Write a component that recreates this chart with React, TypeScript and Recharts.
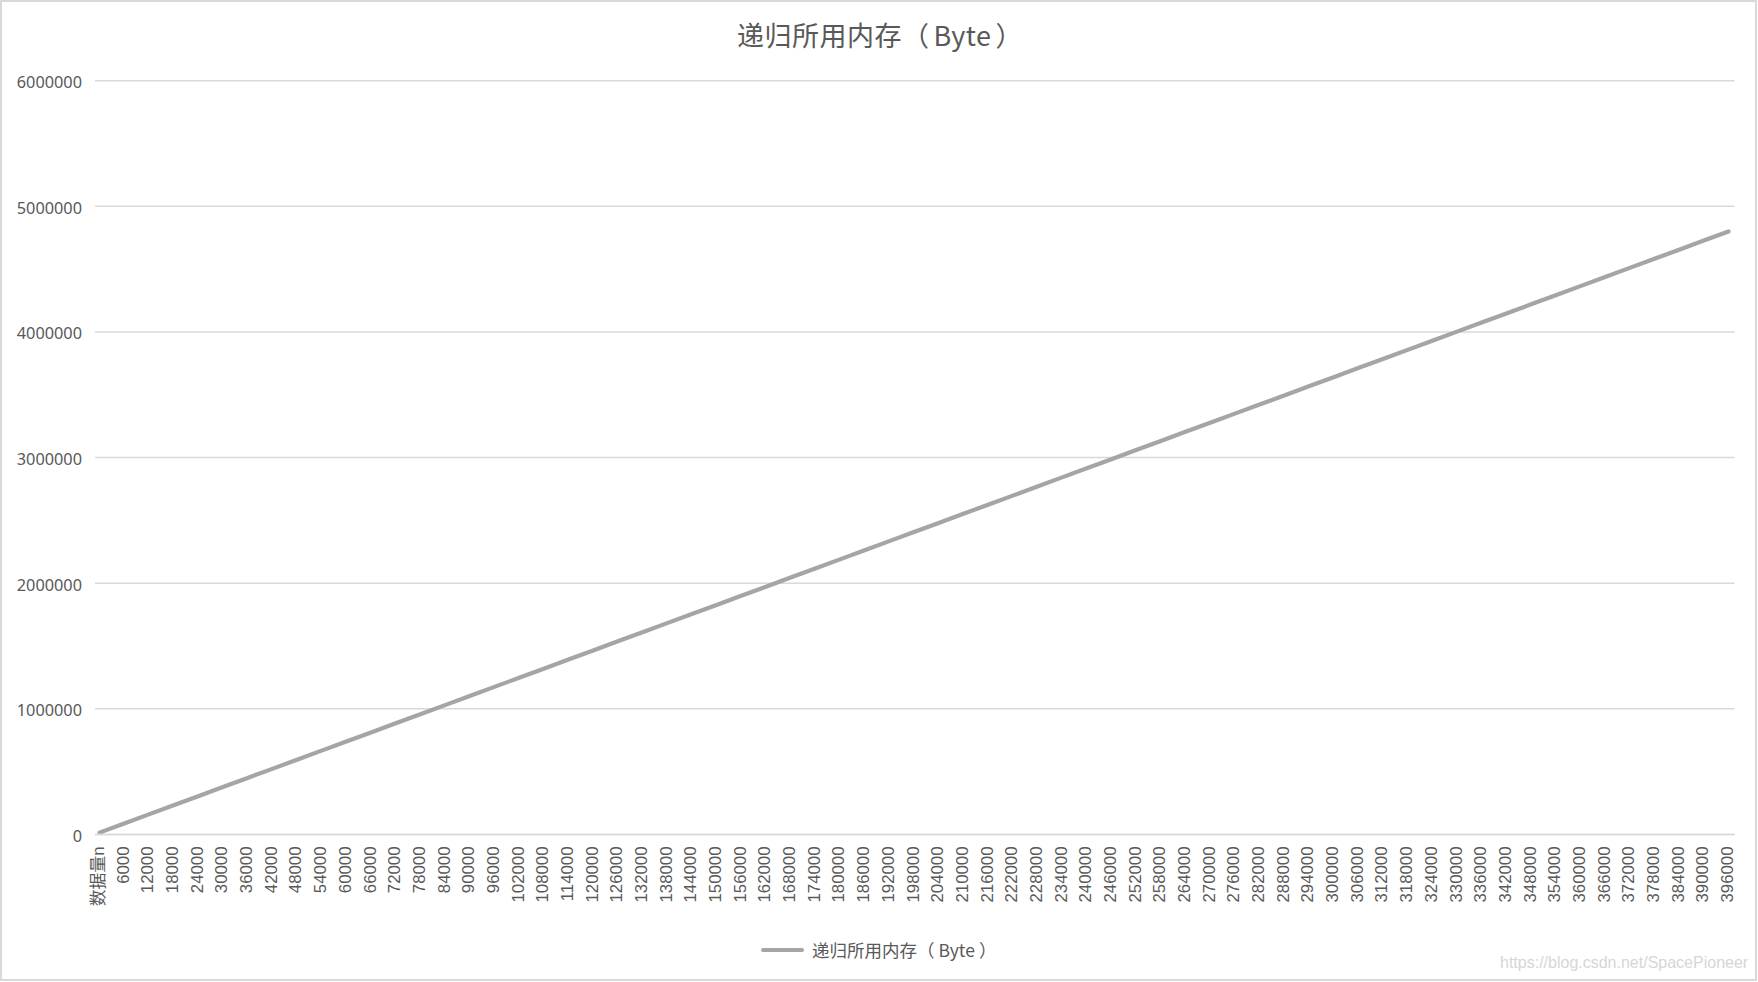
import React from "react";
import { LineChart, Line, XAxis, YAxis, CartesianGrid } from "recharts";

const TITLE_CJK = "递归所用内存";
const UNIT = "Byte";
const SERIES_NAME = "递归所用内存（Byte）";
const WATERMARK = "https://blog.csdn.net/SpacePioneer";

const categories: string[] = [
  "数据量n",
  "6000", "12000", "18000", "24000", "30000", "36000", "42000", "48000", "54000", "60000",
  "66000", "72000", "78000", "84000", "90000", "96000", "102000", "108000", "114000", "120000",
  "126000", "132000", "138000", "144000", "150000", "156000", "162000", "168000", "174000", "180000",
  "186000", "192000", "198000", "204000", "210000", "216000", "222000", "228000", "234000", "240000",
  "246000", "252000", "258000", "264000", "270000", "276000", "282000", "288000", "294000", "300000",
  "306000", "312000", "318000", "324000", "330000", "336000", "342000", "348000", "354000", "360000",
  "366000", "372000", "378000", "384000", "390000", "396000",
];

const memoryBytes: number[] = [
  15000,
  87500, 160000, 232500, 305000, 377500, 450000, 522500, 595000, 667500, 740000,
  812500, 885000, 957500, 1030000, 1102500, 1175000, 1247500, 1320000, 1392500, 1465000,
  1537500, 1610000, 1682500, 1755000, 1827500, 1900000, 1972500, 2045000, 2117500, 2190000,
  2262500, 2335000, 2407500, 2480000, 2552500, 2625000, 2697500, 2770000, 2842500, 2915000,
  2987500, 3060000, 3132500, 3205000, 3277500, 3350000, 3422500, 3495000, 3567500, 3640000,
  3712500, 3785000, 3857500, 3930000, 4002500, 4075000, 4147500, 4220000, 4292500, 4365000,
  4437500, 4510000, 4582500, 4655000, 4727500, 4800000,
];

const yTicks: number[] = [0, 1000000, 2000000, 3000000, 4000000, 5000000, 6000000];

const data = categories.map((c, i) => ({ n: c, mem: memoryBytes[i] }));

const TEXT = "#595959";
const GRID = "#d9d9d9";
const LINE = "#a5a5a5";

const XTick = (props: any) => {
  const { x, y, payload } = props;
  return (
    <text
      transform={`translate(${x - 1},${y}) rotate(-90)`}
      textAnchor="end"
      dominantBaseline="central"
      fill={TEXT}
      fontSize={16.8}
      fontFamily="'Liberation Sans', 'Noto Sans CJK SC', sans-serif"
    >
      {payload.value}
    </text>
  );
};

const YTick = (props: any) => {
  const { x, y, payload } = props;
  return (
    <text
      x={x}
      y={y + 1.5}
      textAnchor="end"
      dominantBaseline="central"
      fill={TEXT}
      fontSize={16.3}
      fontFamily="'Noto Sans', sans-serif"
    >
      {payload.value}
    </text>
  );
};

export default function App() {
  return (
    <div
      style={{
        position: "absolute",
        left: 0,
        top: 0,
        width: 1758,
        height: 982,
        background: "#ffffff",
        overflow: "hidden",
      }}
    >
      <LineChart
        width={1758}
        height={982}
        data={data}
        margin={{ top: 80.7, right: 23.5, bottom: 47.5, left: 0 }}
      >
        <CartesianGrid vertical={false} stroke={GRID} strokeWidth={1.5} />
        <XAxis
          dataKey="n"
          interval={0}
          height={100}
          tickSize={0}
          tickMargin={12}
          tickLine={false}
          axisLine={{ stroke: GRID, strokeWidth: 1.5 }}
          padding={{ left: 4.5, right: 6 }}
          tick={<XTick />}
        />
        <YAxis
          width={95}
          domain={[0, 6000000]}
          ticks={yTicks}
          interval={0}
          tickSize={0}
          tickMargin={13}
          tickLine={false}
          axisLine={false}
          tick={<YTick />}
        />
        <Line
          type="linear"
          dataKey="mem"
          name={SERIES_NAME}
          stroke={LINE}
          strokeWidth={4.2}
          strokeLinecap="round"
          dot={false}
          activeDot={false}
          isAnimationActive={false}
        />
      </LineChart>

      {/* chart area border */}
      <div
        style={{
          position: "absolute",
          left: 0,
          top: 0,
          width: 1757,
          height: 981,
          border: `2px solid ${GRID}`,
          boxSizing: "border-box",
          pointerEvents: "none",
        }}
      />

      {/* title */}
      <div
        style={{
          position: "absolute",
          left: 880,
          top: 35 - 14,
          transform: "translateX(-50%)",
          fontSize: 27,
          lineHeight: "28px",
          whiteSpace: "nowrap",
          color: TEXT,
          fontFamily: "'Noto Sans CJK SC', sans-serif",
          letterSpacing: 0.5,
        }}
      >
        {TITLE_CJK}（<span style={{ padding: "0 4px" }}>{UNIT}</span>）
      </div>

      {/* legend */}
      <div
        style={{
          position: "absolute",
          left: 761,
          top: 948,
          width: 43,
          height: 4,
          borderRadius: 2,
          background: LINE,
        }}
      />
      <div
        style={{
          position: "absolute",
          left: 812,
          top: 950 - 9,
          fontSize: 17.5,
          lineHeight: "18px",
          whiteSpace: "nowrap",
          color: TEXT,
          fontFamily: "'Noto Sans CJK SC', sans-serif",
        }}
      >
        递归所用内存（<span style={{ padding: "0 4px" }}>{UNIT}</span>）
      </div>

      {/* watermark */}
      <div
        style={{
          position: "absolute",
          left: 1500,
          top: 963 - 9,
          fontSize: 16,
          lineHeight: "18px",
          whiteSpace: "nowrap",
          color: "#d6d6d6",
          fontFamily: "'Liberation Sans', Arial, sans-serif",
        }}
      >
        {WATERMARK}
      </div>
    </div>
  );
}
